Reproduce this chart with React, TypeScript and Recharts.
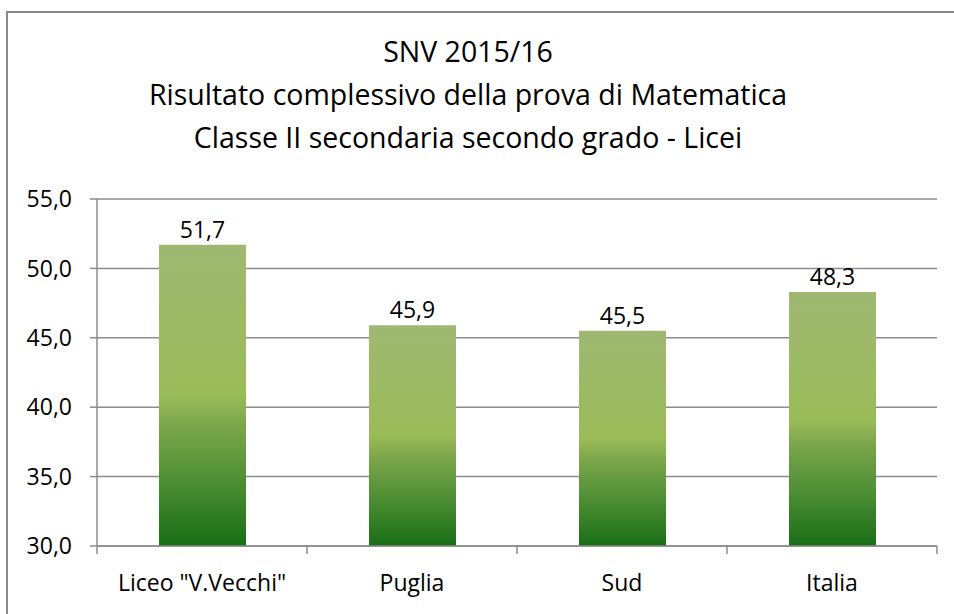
import React from 'react';
import {
  Bar,
  BarChart,
  CartesianGrid,
  LabelList,
  XAxis,
  YAxis,
} from 'recharts';

const categories = ['Liceo "V.Vecchi"', 'Puglia', 'Sud', 'Italia'];
const scores = [51.7, 45.9, 45.5, 48.3];
const yTicks = [30, 35, 40, 45, 50, 55];
const titleLines = [
  'SNV 2015/16',
  'Risultato complessivo della prova di Matematica',
  'Classe II secondaria secondo grado - Licei',
];

const data = categories.map((name, i) => ({ name, value: scores[i] }));

const FONT = '"Open Sans", "Noto Sans", sans-serif';
const AXIS = '#8c8c8c';

const fmt = (v: number) => v.toFixed(1).replace('.', ',');

const CategoryTick = (props: any) => {
  const { x, y, payload } = props;
  const half = payload?.offset ?? 105;
  return (
    <g>
      <line x1={x + half} y1={y - 8} x2={x + half} y2={y} stroke={AXIS} strokeWidth={1.5} />
      {payload.index === 0 && (
        <line x1={x - half} y1={y - 8} x2={x - half} y2={y} stroke={AXIS} strokeWidth={1.5} />
      )}
      <text x={x} y={y + 37} textAnchor="middle" fontSize={23} fontFamily={FONT} fill="#000">
        {payload.value}
      </text>
    </g>
  );
};

const App: React.FC = () => {
  return (
    <div
      style={{
        position: 'absolute',
        left: 0,
        top: 0,
        width: 954,
        height: 614,
        overflow: 'hidden',
        background: '#fff',
      }}
    >
      <div
        style={{
          position: 'absolute',
          left: 6,
          top: 11,
          width: 1000,
          height: 700,
          border: '2px solid #8a8a8a',
        }}
      />
      <svg
        width={954}
        height={180}
        style={{ position: 'absolute', left: 0, top: 0 }}
      >
        {titleLines.map((line, i) => (
          <text
            key={line}
            x={468}
            y={62 + i * 43}
            textAnchor="middle"
            fontSize={28.5}
            fontFamily={FONT}
            fill="#000"
          >
            {line}
          </text>
        ))}
      </svg>
      <div style={{ position: 'absolute', left: 0, top: 0 }}>
        <BarChart
          width={954}
          height={614}
          data={data}
          margin={{ top: 199, right: 17, bottom: 0, left: 0 }}
        >
          <defs>
            <linearGradient id="greenFill" x1="0" y1="0" x2="0" y2="1">
              <stop offset="0%" stopColor="#9fb872" />
              <stop offset="50%" stopColor="#9bbb59" />
              <stop offset="60%" stopColor="#7ca64b" />
              <stop offset="80%" stopColor="#4a8c32" />
              <stop offset="100%" stopColor="#196e15" />
            </linearGradient>
          </defs>
          <CartesianGrid
            vertical={false}
            stroke={AXIS}
            strokeWidth={1.5}
          />
          <XAxis
            dataKey="name"
            height={68}
            axisLine={{ stroke: AXIS, strokeWidth: 1.5 }}
            tickLine={false}
            tickSize={8}
            tickMargin={0}
            tick={<CategoryTick />}
            interval={0}
          />
          <YAxis
            width={97}
            domain={[30, 55]}
            ticks={yTicks}
            allowDataOverflow
            tickFormatter={fmt}
            axisLine={{ stroke: AXIS, strokeWidth: 1.5 }}
            tickLine={{ stroke: AXIS, strokeWidth: 1.5 }}
            tickSize={7}
            tickMargin={18}
            tick={{ fontSize: 23, fontFamily: FONT, fill: '#000' }}
          />
          <Bar
            dataKey="value"
            barSize={87}
            fill="url(#greenFill)"
            isAnimationActive={false}
          >
            <LabelList
              dataKey="value"
              position="top"
              offset={7}
              formatter={(v: any) => fmt(Number(v))}
              style={{ fontSize: 23, fontFamily: FONT, fill: '#000' }}
            />
          </Bar>
        </BarChart>
      </div>
    </div>
  );
};

export default App;
